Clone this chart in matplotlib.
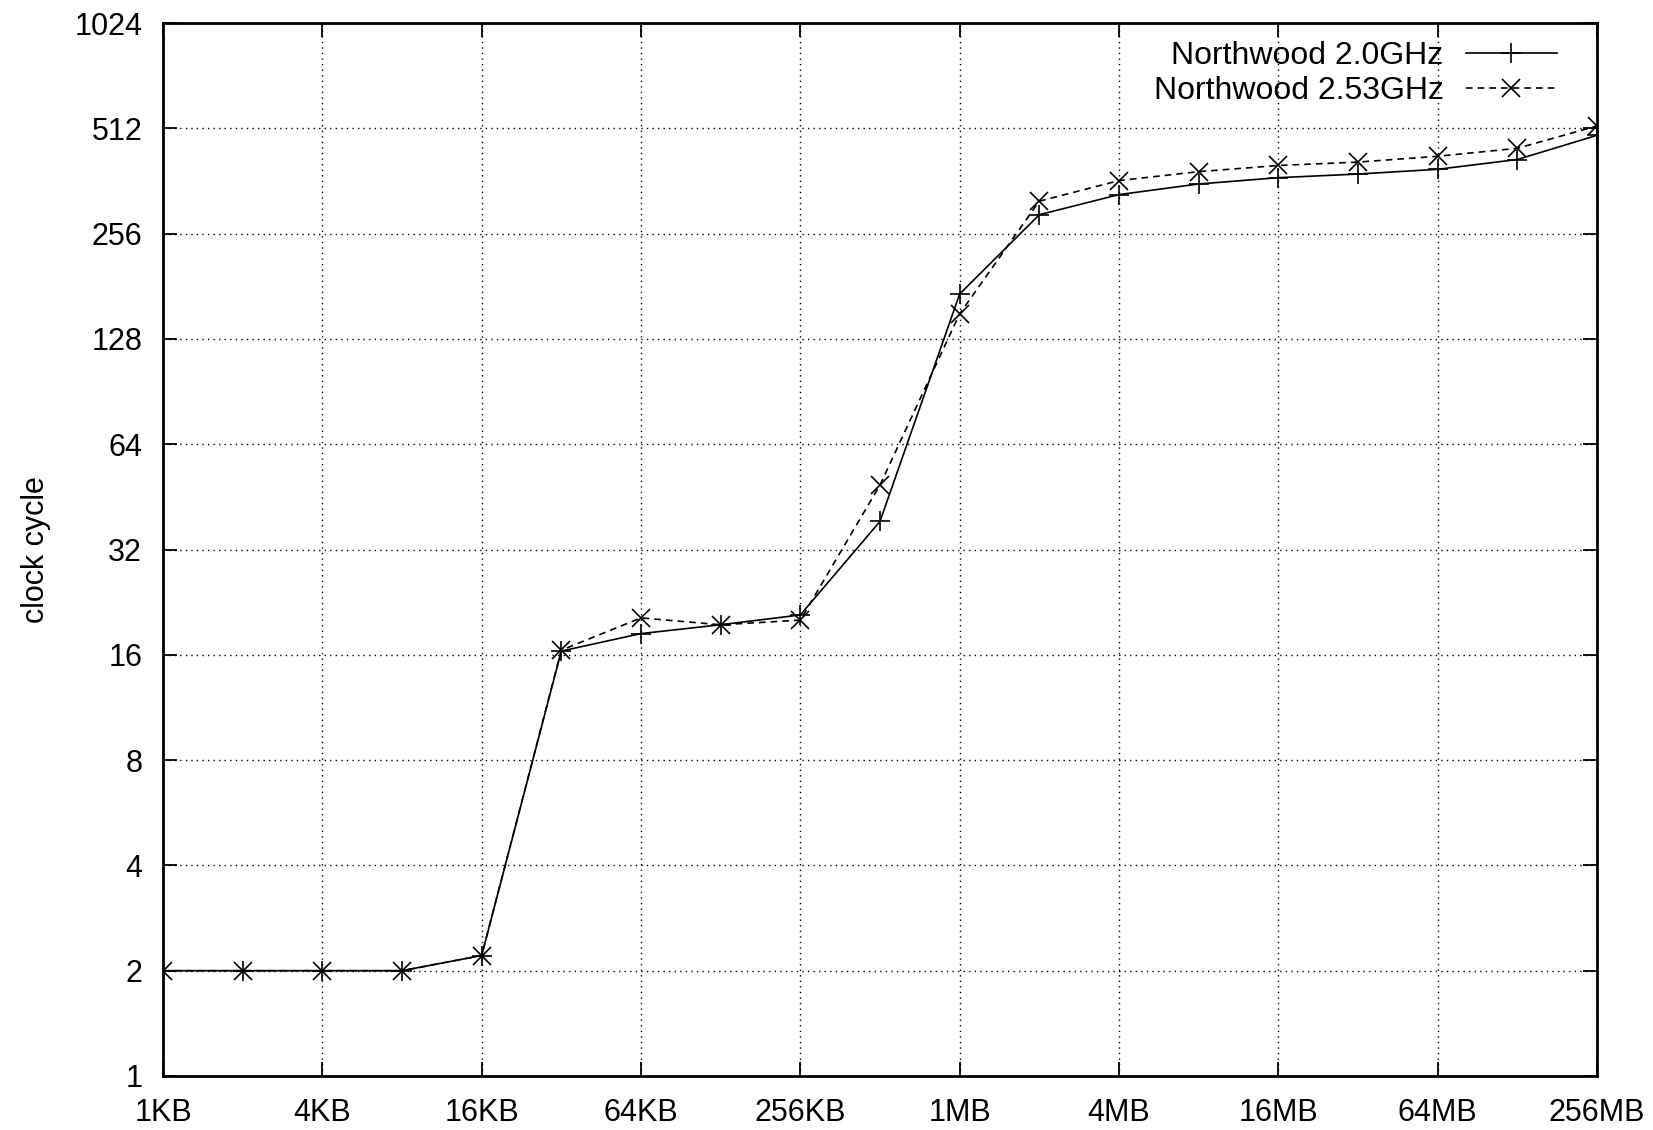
import numpy as np
import matplotlib
matplotlib.use("Agg")
import matplotlib.pyplot as plt

# ==========================================
# memory access latency, Northwood
# ==========================================

sizes_kb = [1, 2, 4, 8, 16, 32, 64, 128, 256, 512,
            1024, 2048, 4096, 8192, 16384, 32768, 65536, 131072, 262144]

nw_20 = [2.0, 2.0, 2.0, 2.0, 2.21, 16.4, 18.4, 19.5, 20.8, 38.5,
         172, 290, 331, 355, 370, 379, 391, 417, 489]
nw_253 = [2.0, 2.0, 2.0, 2.0, 2.21, 16.5, 20.4, 19.5, 20.1, 48.9,
          151, 317, 363, 385, 401, 410, 426, 449, 520]

xtick_kb = [1, 4, 16, 64, 256, 1024, 4096, 16384, 65536, 262144]
xtick_labels = ['1KB', '4KB', '16KB', '64KB', '256KB',
                '1MB', '4MB', '16MB', '64MB', '256MB']
yticks = [1, 2, 4, 8, 16, 32, 64, 128, 256, 512, 1024]

plt.rcParams['font.family'] = ['Liberation Sans', 'DejaVu Sans']


def plot_results():
    fig = plt.figure(figsize=(16.53, 11.30), dpi=100)
    ax = fig.add_axes([0.0986, 0.0478, 0.8675, 0.9318])

    ax.plot(sizes_kb, nw_20, color='black', linewidth=1.2, linestyle='-',
            marker='+', markersize=15, markeredgewidth=1.2,
            label='Northwood 2.0GHz')
    ax.plot(sizes_kb, nw_253, color='black', linewidth=1.2,
            linestyle=(0, (4, 3)), marker='x', markersize=13,
            markeredgewidth=1.2, label='Northwood 2.53GHz')

    ax.set_xscale('log', base=2)
    ax.set_yscale('log', base=2)
    ax.set_xlim(1, 262144)
    ax.set_ylim(1, 1024)

    ax.set_xticks(xtick_kb)
    ax.set_xticklabels(xtick_labels)
    ax.set_yticks(yticks)
    ax.set_yticklabels([str(v) for v in yticks])
    ax.minorticks_off()

    ax.tick_params(which='both', direction='in', length=10, width=1.3,
                   top=True, right=True, labelsize=22)
    ax.tick_params(axis='x', pad=16)
    ax.tick_params(axis='y', pad=15)
    ax.grid(True, color='black', linestyle=(0, (1, 3)), linewidth=1.0)
    for s in ax.spines.values():
        s.set_linewidth(2)

    ax.set_ylabel('clock cycle', fontsize=22)
    ax.yaxis.set_label_coords(-0.078, 0.5)

    ax.legend(loc='upper right', bbox_to_anchor=(0.981, 0.995),
              frameon=False, markerfirst=False, fontsize=23,
              handlelength=2.85, handletextpad=0.7,
              labelspacing=0.15, borderaxespad=0.0)

    fig.savefig('out.png', dpi=100)


def main():
    plot_results()


if __name__ == "__main__":
    main()
